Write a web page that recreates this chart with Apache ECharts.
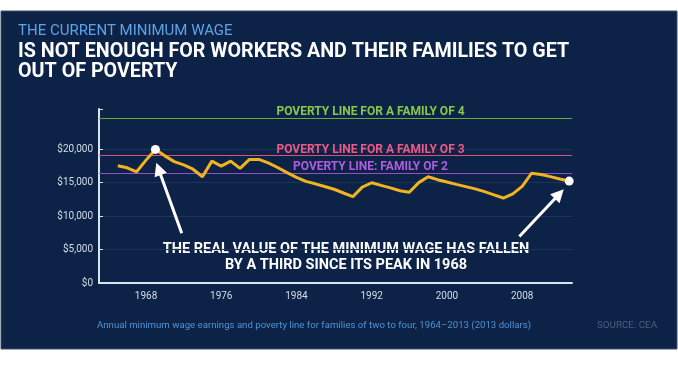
<!DOCTYPE html>
<html>
<head>
<meta charset="utf-8">
<script src="https://cdn.jsdelivr.net/npm/echarts@6/dist/echarts.min.js"></script>
<style>
html,body{margin:0;padding:0;background:#ffffff;}
#chart{width:678px;height:381px;}
</style>
</head>
<body>
<div id="chart"></div>
<script>
// ---- data ----
const years = [1965,1966,1967,1968,1969,1970,1971,1972,1973,1974,1975,1976,1977,1978,1979,1980,1981,1982,1983,1984,1985,1986,1987,1988,1989,1990,1991,1992,1993,1994,1995,1996,1997,1998,1999,2000,2001,2002,2003,2004,2005,2006,2007,2008,2009,2010,2011,2012,2013];
const wages = [17510,17210,16620,18360,19960,19000,18140,17650,17000,15870,18210,17470,18210,17130,18470,18470,17960,17260,16500,15790,15190,14820,14420,14010,13450,12900,14330,14980,14590,14220,13790,13550,15000,15870,15440,15090,14740,14400,14060,13660,13180,12700,13310,14430,16400,16200,15900,15550,15230];
const povertyValues = [24650, 19050, 16400];
const povertyLabels = ['POVERTY LINE FOR A FAMILY OF 4', 'POVERTY LINE FOR A FAMILY OF 3', 'POVERTY LINE: FAMILY OF 2'];
const xTickLabels = [1968, 1976, 1984, 1992, 2000, 2008];
const yTickLabels = [0, 5000, 10000, 15000, 20000];
const peakIndex = 4;            // highest point in the series
const lastIndex = years.length - 1;

const FONT = "'Roboto', 'Liberation Sans', sans-serif";
const povertyColors = ['#6aa840', '#de4f7c', '#9a4ccc'];
const povertyTextColors = ['#86c84a', '#ee5a86', '#b05ee0'];

const chart = echarts.init(document.getElementById('chart'), null, {renderer: 'canvas'});

const lineData = years.map((y, i) => [y, wages[i]]);
const dotData = [peakIndex, lastIndex].map(i => [years[i], wages[i]]);

const povertyMarks = povertyValues.map((v, i) => ({
  yAxis: v,
  lineStyle: {color: povertyColors[i], width: 1, type: 'solid'},
  label: {
    show: true,
    formatter: povertyLabels[i],
    position: 'insideMiddleTop',
    padding: [0, 0, 0, 70],
    distance: 0,
    color: povertyTextColors[i],
    fontFamily: FONT,
    fontWeight: 'bold',
    fontSize: 12
  }
}));

const arrowMarks = [
  [{coord: [1971.8, 7450]}, {coord: [1969.33, 17050]}],
  [{coord: [2007.7, 6940]}, {coord: [2011.95, 13300]}]
].map(pair => [
  Object.assign({}, pair[0], {lineStyle: {color: '#ffffff', width: 3, type: 'solid'}, label: {show: false}, symbol: 'none'}),
  Object.assign({}, pair[1], {symbol: 'triangle', symbolSize: 13})
]);

const option = {
  animation: false,
  graphic: [
    {type: 'rect', z: -100, silent: true, shape: {x: 1, y: 11, width: 676, height: 338}, style: {fill: '#0c2247', stroke: '#3b5068', lineWidth: 1}},
    {type: 'text', silent: true, x: 18, y: 31, style: {text: 'THE CURRENT MINIMUM WAGE', fill: '#5ea3e6', font: "normal 15px " + FONT, textVerticalAlign: 'middle'}},
    {type: 'text', silent: true, x: 18, y: 52, style: {text: 'IS NOT ENOUGH FOR WORKERS AND THEIR FAMILIES TO GET', fill: '#ffffff', font: "bold 19.7px " + FONT, textVerticalAlign: 'middle'}},
    {type: 'text', silent: true, x: 18, y: 72, style: {text: 'OUT OF POVERTY', fill: '#ffffff', font: "bold 19.7px " + FONT, textVerticalAlign: 'middle'}},
    {type: 'text', silent: true, x: 346, y: 249, style: {text: 'THE REAL VALUE OF THE MINIMUM WAGE HAS FALLEN', fill: '#ffffff', font: "bold 14.5px " + FONT, textAlign: 'center', textVerticalAlign: 'middle'}},
    {type: 'text', silent: true, x: 346, y: 265, style: {text: 'BY A THIRD SINCE ITS PEAK IN 1968', fill: '#ffffff', font: "bold 14.5px " + FONT, textAlign: 'center', textVerticalAlign: 'middle'}},
    {type: 'text', silent: true, x: 97, y: 326, style: {text: 'Annual minimum wage earnings and poverty line for families of two to four, 1964\u20132013 (2013 dollars)', fill: '#4f93d6', font: "normal 9.65px " + FONT, textVerticalAlign: 'middle'}},
    {type: 'text', silent: true, x: 597, y: 326, style: {text: 'SOURCE: CEA', fill: '#4a6080', font: "normal 9.8px " + FONT, textVerticalAlign: 'middle'}}
  ],
  grid: {left: 99, right: 106, top: 109, bottom: 98, containLabel: false},
  xAxis: {
    type: 'value',
    min: 1963,
    max: 2013.3,
    axisLine: {show: true, lineStyle: {color: '#d8e6f2', width: 2}},
    axisTick: {show: false},
    splitLine: {show: false},
    axisLabel: {
      customValues: xTickLabels,
      color: '#d3dde8',
      fontFamily: FONT,
      fontSize: 10,
      margin: 8,
      formatter: v => String(v)
    }
  },
  yAxis: {
    type: 'value',
    min: 0,
    max: 26000,
    interval: 5000,
    axisLine: {show: true, lineStyle: {color: '#d8e6f2', width: 2}},
    axisTick: {show: true, inside: true, length: 4, customValues: [0, 5000, 10000, 15000, 20000, 26000], lineStyle: {color: '#d8e6f2', width: 1}},
    splitLine: {show: true, lineStyle: {color: ['rgba(0,0,0,0)', '#1c3658', '#1c3658', '#1c3658', '#1c3658', 'rgba(0,0,0,0)', 'rgba(0,0,0,0)'], width: 1}},
    axisLabel: {
      customValues: yTickLabels,
      color: '#d3dde8',
      fontFamily: FONT,
      fontSize: 10,
      margin: 6,
      formatter: v => '$' + v.toLocaleString('en-US')
    }
  },
  series: [
    {
      type: 'line',
      data: lineData,
      showSymbol: false,
      symbol: 'none',
      lineStyle: {color: '#f2b320', width: 3},
      z: 5,
      markLine: {
        silent: true,
        symbol: 'none',
        animation: false,
        data: povertyMarks.concat(arrowMarks)
      }
    },
    {
      type: 'scatter',
      data: dotData,
      symbol: 'circle',
      symbolSize: 9,
      itemStyle: {color: '#ffffff', opacity: 1},
      z: 10
    }
  ]
};
chart.setOption(option);
</script>
</body>
</html>
